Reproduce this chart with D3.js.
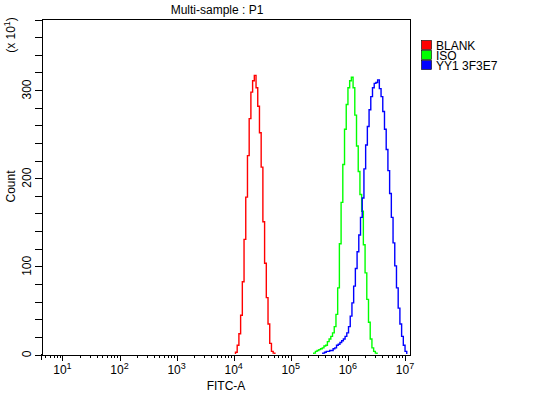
<!DOCTYPE html>
<html lang="en">
<head>
<meta charset="utf-8"/>
<title>Multi-sample : P1</title>
<script src="https://d3js.org/d3.v7.min.js"></script>
<style>
  body { margin: 0; background: #fff; }
  text { font-family: "Liberation Sans", Arial, sans-serif; font-size: 12px; fill: #000; }
</style>
</head>
<body>
<script>
// histogram channels, width in decades of FITC-A
const binWidth = 0.03
const blankStart = 4.04
const isoStart = 5.41
const yy1Start = 5.57

// counts (x 10^1) per channel
const blankCounts = [2,10,23,44,82,130,178,225,267,297,310,316,302,281,251,212,150,103,64,34,12,3,1]
const isoCounts = [1,3,4,5,6,7,9,10,14,17,20,24,31,45,75,125,172,215,255,283,302,310,314,302,271,236,207,181,162,124,92,62,36,17,7,3,1]
const yy1Counts = [1,2,3,3,4,4,6,7,10,11,13,15,17,20,24,31,43,58,77,97,116,135,155,177,210,237,258,277,292,302,307,308,311,301,292,275,255,232,208,182,155,126,100,75,52,34,20,10,3]

const seriesNames = ["BLANK", "ISO", "YY1 3F3E7"]
const seriesColors = ["#ff0000", "#00ff00", "#0000ff"]
const xDecades = [1, 2, 3, 4, 5, 6, 7]
const yLabels = [0, 100, 200, 300]

const W = 547, H = 393
const pLeft = 41, pRight = 410, pTop = 19, pBottom = 354

const svg = d3.select("body").append("svg").attr("width", W).attr("height", H)

const x = d3.scaleLog().domain([4.3, 1.25e7]).range([pLeft, pRight])
const y = d3.scaleLinear().domain([0, 380]).range([pBottom, pTop])

// series
const series = [
  {start: blankStart, counts: blankCounts},
  {start: isoStart, counts: isoCounts},
  {start: yy1Start, counts: yy1Counts}
]
const line = d3.line().x(d => x(Math.pow(10, d[0]))).y(d => y(d[1])).curve(d3.curveStepAfter)
series.forEach((s, k) => {
  const pts = [[s.start, 0]]
  s.counts.forEach((c, i) => pts.push([s.start + i * binWidth, c]))
  pts.push([s.start + s.counts.length * binWidth, 0])
  svg.append("path").attr("d", line(pts))
     .attr("fill", "none").attr("stroke", seriesColors[k]).attr("stroke-width", 1.4)
})

// frame
svg.append("path")
   .attr("d", `M${pLeft + .5},${pTop + .5}H${pRight + .5}V${pBottom + .5}`)
   .attr("fill", "none").attr("stroke", "#000").attr("shape-rendering", "crispEdges")

// x axis: minor ticks then major ticks
const minorVals = []
for (let p = 0; p <= 7; p++) for (let m = 2; m <= 9; m++) {
  const v = m * Math.pow(10, p)
  if (v > 4.3 && v < 1.25e7) minorVals.push(v)
}
const gx = svg.append("g").attr("transform", `translate(0.5,${pBottom + .5})`)
  .attr("shape-rendering", "crispEdges")
gx.call(d3.axisBottom(x).tickValues(minorVals).tickSize(3.5).tickSizeOuter(0).tickFormat(""))
gx.append("g").call(d3.axisBottom(x).tickValues(xDecades.map(p => Math.pow(10, p)))
  .tickSize(6).tickSizeOuter(0).tickFormat(""))
gx.selectAll(".domain").attr("stroke", "#000")
gx.selectAll("line").attr("stroke", "#000")

const xl = svg.append("g")
xDecades.forEach(p => {
  const t = xl.append("text").attr("x", x(Math.pow(10, p)) + 0.5).attr("y", 374)
    .attr("text-anchor", "middle")
  t.append("tspan").text("10")
  t.append("tspan").attr("dy", -5).attr("font-size", "9px").text(p)
})
svg.append("text").attr("x", 226).attr("y", 390).attr("text-anchor", "middle").text("FITC-A")

// y axis
const gy = svg.append("g").attr("transform", `translate(${pLeft + .5},0.5)`)
  .attr("shape-rendering", "crispEdges")
gy.call(d3.axisLeft(y).tickValues(d3.range(0, 381, 20)).tickSize(7).tickSizeOuter(0).tickFormat(""))
gy.selectAll(".domain, line").attr("stroke", "#000")
// left axis runs a little below the baseline
svg.append("line").attr("x1", pLeft + .5).attr("x2", pLeft + .5).attr("y1", pBottom).attr("y2", pBottom + 6)
   .attr("stroke", "#000").attr("shape-rendering", "crispEdges")

yLabels.forEach(v => {
  svg.append("text").attr("transform", `translate(31,${y(v)}) rotate(-90)`)
     .attr("text-anchor", "middle").text(v)
})
svg.append("text").attr("transform", `translate(15,${(pTop + pBottom) / 2}) rotate(-90)`)
   .attr("text-anchor", "middle").text("Count")
const unit = svg.append("text").attr("transform", "translate(15,35) rotate(-90)")
   .attr("text-anchor", "middle")
unit.append("tspan").text("(x 10")
unit.append("tspan").attr("dy", -5).attr("font-size", "9px").text("1")
unit.append("tspan").attr("dy", 5).text(")")

// title
svg.append("text").attr("x", 217).attr("y", 14).attr("text-anchor", "middle").text("Multi-sample : P1")

// legend
const lg = svg.append("g")
seriesNames.forEach((n, i) => {
  lg.append("rect").attr("x", 421.5).attr("y", 40.5 + i * 10).attr("width", 10).attr("height", 9)
    .attr("fill", seriesColors[i]).attr("stroke", "#000").attr("stroke-width", 0.6)
  lg.append("text").attr("x", 436).attr("y", 50 + i * 10).text(n)
})
</script>
</body>
</html>
